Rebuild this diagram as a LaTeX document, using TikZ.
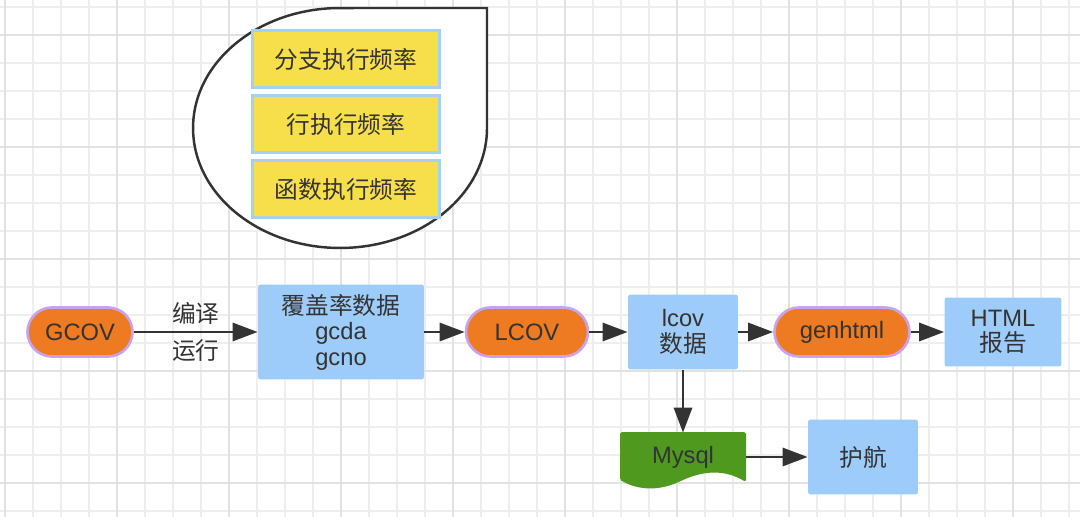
\documentclass[tikz,border=0pt]{standalone}
\usepackage{fontspec}
\setmainfont{Liberation Sans}
\newfontfamily\cjk{Noto Sans CJK SC}
\usetikzlibrary{arrows.meta,positioning}
\definecolor{gridgray}{HTML}{EEEEEE}
\definecolor{gridmajor}{HTML}{E2E2E2}
\definecolor{boxblue}{HTML}{9ECCFA}
\definecolor{pillorange}{HTML}{EE7A22}
\definecolor{pillpurple}{HTML}{C8A2EC}
\definecolor{noteyellow}{HTML}{F7DF4B}
\definecolor{noteedge}{HTML}{A6CFF4}
\definecolor{dbgreen}{HTML}{4F991F}
\definecolor{inkgray}{HTML}{333333}

\begin{document}
\begin{tikzpicture}[x=0.02cm, y=-0.02cm,
    every node/.style={text=inkgray, font=\fontsize{13.5pt}{14.5pt}\selectfont},
    pill/.style={draw=pillpurple, line width=1.5pt, fill=pillorange,
        rounded corners=0.49cm, minimum height=0.98cm, inner sep=0pt},
    infobox/.style={fill=boxblue, rounded corners=1.5pt, align=center, inner sep=0pt},
    notebox/.style={draw=noteedge, line width=1.5pt, fill=noteyellow,
        minimum width=3.74cm, minimum height=1.14cm, inner sep=0pt},
    flow/.style={-{Triangle[length=0.5cm, width=0.36cm]}, draw=inkgray, line width=1.7pt}]
    % Page and grid
    \fill[white] (0,0) rectangle (1080,517);
    \useasboundingbox (0,0) rectangle (1080,517);
    \foreach \gx in {5,33,...,1080} \draw[gridgray, line width=0.6pt] (\gx,0) -- (\gx,517);
    \foreach \gy in {7,35,...,517} \draw[gridgray, line width=0.6pt] (0,\gy) -- (1080,\gy);
    \foreach \gx in {5,117,...,1080} \draw[gridmajor, line width=0.7pt] (\gx,0) -- (\gx,517);
    \foreach \gy in {35,147,...,517} \draw[gridmajor, line width=0.7pt] (0,\gy) -- (1080,\gy);

    % Drop shape with the three counters
    \filldraw[draw=inkgray, fill=white, line width=1.4pt]
        (487,8) -- (487,128) arc[start angle=0, end angle=-270, x radius=2.94cm, y radius=2.4cm] -- cycle;
    \node[notebox] (branch) at (346,59) {\cjk 分支执行频率};
    \node[notebox] (line) at (346,124) {\cjk 行执行频率};
    \node[notebox] (func) at (346,189) {\cjk 函数执行频率};

    % Main flow
    \node[pill, minimum width=2.1cm] (gcov) at (80,332) {GCOV};
    \node[infobox, minimum width=3.32cm, minimum height=1.9cm] (data) at (341,332) {{\cjk 覆盖率数据}\\gcda\\gcno};
    \node[pill, minimum width=2.44cm] (lcov) at (527,332) {LCOV};
    \node[infobox, minimum width=2.2cm, minimum height=1.5cm] (lcovdata) at (683,332) {lcov\\{\cjk 数据}};
    \node[pill, minimum width=2.7cm] (genhtml) at (842,332) {genhtml};
    \node[infobox, minimum width=2.34cm, minimum height=1.38cm] (html) at (1003,332) {HTML\\{\cjk 报告}};

    % Database and its reader
    \fill[dbgreen, rounded corners=1pt] (620,432) -- (746,432) -- (746,482)
        .. controls (724,469) and (704,471) .. (683,480)
        .. controls (660,491) and (640,491) .. (620,480) -- cycle;
    \node[minimum width=2.52cm, minimum height=0.96cm, inner sep=0pt] (mysql) at (683,457) {Mysql};
    \node[infobox, minimum width=2.2cm, minimum height=1.5cm] (huhang) at (863,457) {\cjk 护航};

    % Arrows
    \draw[flow] (gcov) -- node[yshift=0.38cm] (compile) {\cjk 编译} node[yshift=-0.38cm] (run) {\cjk 运行} (data);
    \draw[flow] (data) -- (lcov);
    \draw[flow] (lcov) -- (lcovdata);
    \draw[flow] (lcovdata) -- (genhtml);
    \draw[flow] (genhtml) -- (html);
    \draw[flow] (lcovdata) -- (mysql);
    \draw[flow] (mysql) -- (huhang);
\end{tikzpicture}
\end{document}
